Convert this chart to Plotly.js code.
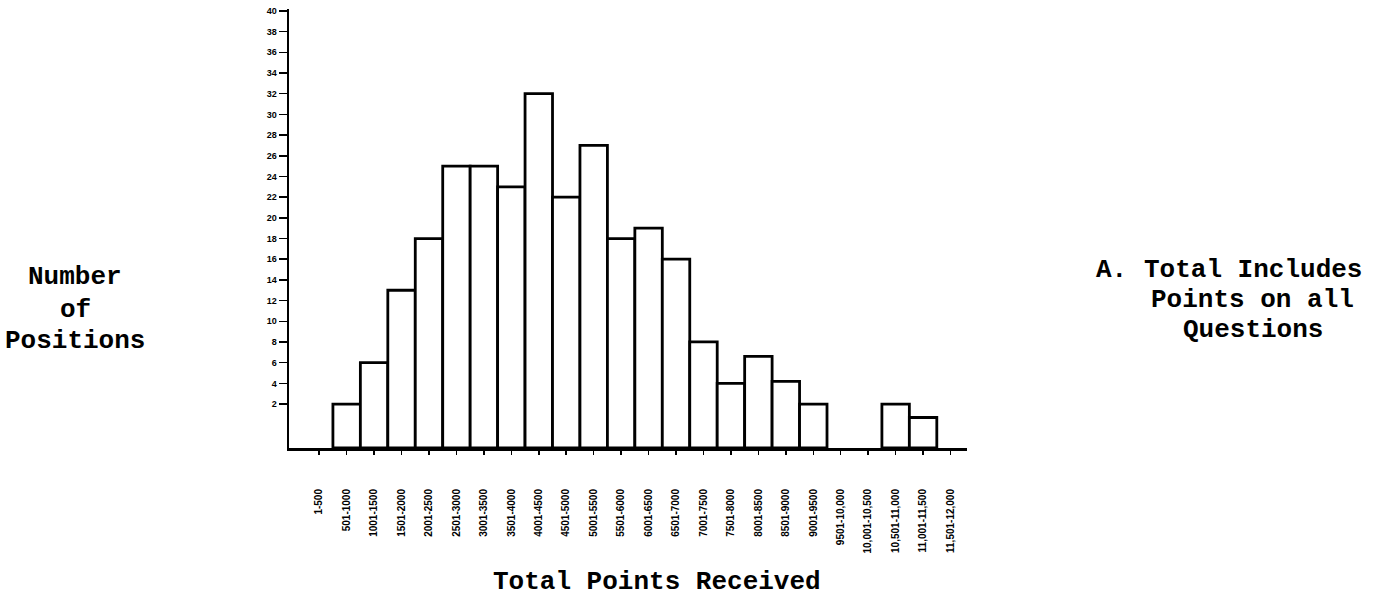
<!DOCTYPE html>
<html>
<head>
<meta charset="utf-8">
<script src="https://cdn.plot.ly/plotly-3.0.1.min.js"></script>
<style>
  html, body { margin: 0; padding: 0; background: #fff; }
  #plot { width: 1399px; height: 598px; }
</style>
</head>
<body>
<div id="plot"></div>
<script>
// point ranges (x categories)
const ranges = [
    '1-500', '501-1000', '1001-1500', '1501-2000', '2001-2500', '2501-3000',
    '3001-3500', '3501-4000', '4001-4500', '4501-5000', '5001-5500', '5501-6000',
    '6001-6500', '6501-7000', '7001-7500', '7501-8000', '8001-8500', '8501-9000',
    '9001-9500', '9501-10,000', '10,001-10,500', '10,501-11,000', '11,001-11,500', '11,501-12,000'
];

// number of positions in each range
const positions = [0, 2, 6, 13, 18, 25, 25, 23, 32, 22, 27, 18, 19, 16, 8, 4, 6.6, 4.2, 2, 0, 0, 2, 0.7, 0];

const yTicks = [2, 4, 6, 8, 10, 12, 14, 16, 18, 20, 22, 24, 26, 28, 30, 32, 34, 36, 38, 40];

// the drawn baseline sits a little below the "2" tick
const yFloor = -2.25;

const typeFont = {family: '"Liberation Mono", "Courier New", monospace', size: 26, color: '#000', weight: 'bold'};

let trace = {
    x: ranges,
    y: positions.map(v => v > 0 ? v - yFloor : null),
    base: yFloor,
    type: 'bar',
    marker: {color: '#fff', line: {color: '#000', width: 2.8}},
    customdata: positions,
    hovertemplate: '%{x}: %{customdata}<extra></extra>'
};

let ann = [];
function addText(text, x, y, xanchor) {
    ann.push({text: text, xref: 'paper', yref: 'paper', x: x, y: y,
              xanchor: xanchor || 'center', yanchor: 'middle', showarrow: false, font: typeFont});
}
// left label
addText('Number', -0.3156, 0.3895);
addText('of', -0.3156, 0.3144);
addText('Positions', -0.3156, 0.2437);
// right note
addText('A.', 1.1875, 0.4055, 'left');
addText('Total Includes', 1.4218, 0.4055);
addText('Points on all', 1.4218, 0.3371);
addText('Questions', 1.4218, 0.2688);
// x title
addText('Total Points Received', 0.543, -0.305);

let layout = {
    width: 1399,
    height: 598,
    margin: {l: 289, r: 432, t: 9, b: 150},
    paper_bgcolor: '#fff',
    plot_bgcolor: '#fff',
    showlegend: false,
    bargap: 0,
    xaxis: {
        type: 'category',
        range: [-1.1, 23.6],
        showgrid: false,
        zeroline: false,
        showline: true,
        linecolor: '#000',
        linewidth: 3,
        ticks: 'outside',
        ticklen: 4,
        tickwidth: 1.5,
        tickcolor: '#000',
        tickangle: -90,
        ticklabelstandoff: 30,
        tickfont: {family: '"Liberation Sans", Arial, sans-serif', size: 10, color: '#000', weight: 'bold'}
    },
    yaxis: {
        range: [yFloor, 40.19],
        showgrid: false,
        zeroline: false,
        showline: true,
        linecolor: '#000',
        linewidth: 2.5,
        ticks: 'outside',
        ticklen: 8,
        tickwidth: 1.5,
        tickcolor: '#000',
        tickmode: 'array',
        tickvals: yTicks,
        ticktext: yTicks.map(String),
        tickfont: {family: '"Liberation Sans", Arial, sans-serif', size: 9, color: '#000', weight: 'bold'}
    },
    annotations: ann
};

Plotly.newPlot('plot', [trace], layout, {displayModeBar: false, staticPlot: true});
</script>
</body>
</html>
